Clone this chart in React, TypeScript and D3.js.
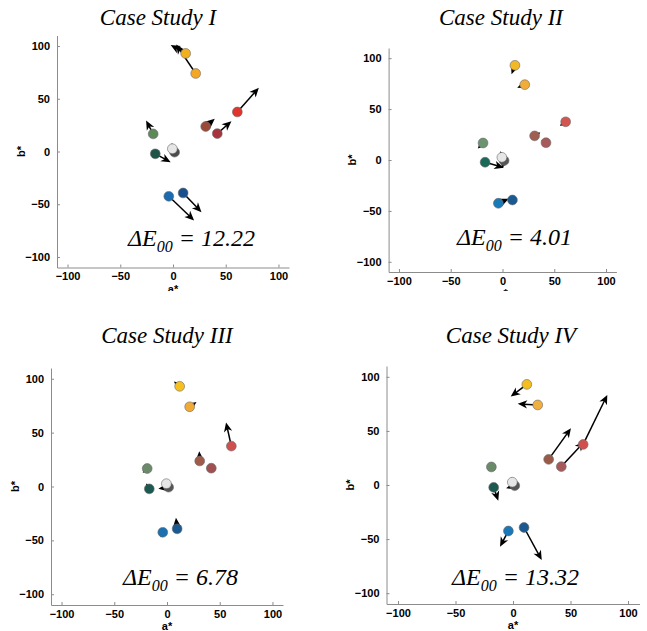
import React, { useEffect, useRef } from 'react';
import * as d3 from 'd3';

// patch order: yellow, orange, red, brown, maroon, green, teal, dark gray, white, blue, dark blue
const patchA = [12, 21.5, 61, 31, 42, -18.8, -16.8, 1.5, -0.6, -4, 9.6];
const patchB = [93, 74, 37.5, 23.7, 17, 16.7, -2.2, -0.6, 2.6, -42.5, -39.3];

const caseTitles = ['Case Study I', 'Case Study II', 'Case Study III', 'Case Study IV'];
const deltaE = ['12.22', '4.01', '6.78', '13.32'];

// arrow tips (a*, b*) per case
const caseIEndA = [-2.2, 3, 81.4, 39.6, 55.4, -25.5, -2.2, 3.5, -1, 20, 27];
const caseIEndB = [101, 101.5, 60.5, 31, 28.7, 29.4, -10.1, -2.5, 8, -65.4, -57.5];
const caseIIEndA = [8.7, 14.2, 55.4, 36.5, 37.5, -23.8, 1.3, -0.3, -2, 6, 12];
const caseIIEndB = [84.3, 70.9, 33.6, 27, 19.5, 11.4, -7.5, -8, 8.5, -38, -36];
const caseIIIEndA = [6.6, 28, 56, 30.6, 41, -23, -19.9, -8.2, -1, -6, 8.5];
const caseIIIEndB = [97.5, 78.4, 59.5, 32.7, 13, 12.7, 2.8, -2.1, 6, -47, -29];
const caseIVEndA = [-2, 4.1, 82, 50.4, 62, -18.5, -12.8, -6, -1, -11.3, 25];
const caseIVEndB = [81.8, 75, 83.3, 52.5, 40, 12.5, -14.5, -3, 7.5, -57, -69.4];

const caseIColors = ['#f2b01e', '#f5a623', '#e0342c', '#9c4a38', '#a8343e', '#5e8a5a', '#1e5448', '#4a4a4a', '#e6e6e6', '#1a6bb0', '#1a4f90'];
const caseIIColors = ['#f2b825', '#f0ad3a', '#d45550', '#a06050', '#a85a5a', '#6a9570', '#1a6a5a', '#555555', '#e6e6e6', '#1a7ab8', '#1a5a90'];
const caseIIIColors = ['#f5c020', '#f0aa35', '#d05050', '#a05a4a', '#a05050', '#6a8a6a', '#1a5a50', '#555555', '#e6e6e6', '#1a70b0', '#1a5a90'];
const caseIVColors = ['#f5be20', '#f0b040', '#d05050', '#9a5a48', '#a85a5a', '#6a8a6a', '#1a5a50', '#555555', '#e6e6e6', '#1a78b8', '#1a5a90'];

const tickValues = [-100, -50, 0, 50, 100];

const cases = [
  { endA: caseIEndA, endB: caseIEndB, colors: caseIColors },
  { endA: caseIIEndA, endB: caseIIEndB, colors: caseIIColors },
  { endA: caseIIIEndA, endB: caseIIIEndB, colors: caseIIIColors },
  { endA: caseIVEndA, endB: caseIVEndB, colors: caseIVColors },
];

// layout of the four panels in pixels
const layout = [
  { xr: [57, 289], yr: [267.5, 35.5], title: [158, 25], de: [128, 246], clipA: true },
  { xr: [388.6, 616.4], yr: [272, 48], title: [501, 25], de: [457, 245], clipA: true },
  { xr: [51, 283], yr: [605, 368], title: [167, 343], de: [123, 585], clipA: false },
  { xr: [386.5, 639.5], yr: [604, 366], title: [511, 343], de: [452, 585], clipA: false },
];

const W = 647;
const H = 631;
const axisColor = '#8c8c8c';
const sansFont = '"Liberation Sans", Helvetica, Arial, sans-serif';
const serifFont = '"Liberation Serif", "Times New Roman", serif';

export default function App() {
  const svgRef = useRef<SVGSVGElement>(null);

  useEffect(() => {
    if (!svgRef.current) return;
    const svg = d3.select(svgRef.current);
    svg.selectAll('*').remove();

    svg.append('defs')
      .append('clipPath')
      .attr('id', 'topclip')
      .append('rect')
      .attr('x', 0).attr('y', 0).attr('width', W).attr('height', 291);

    cases.forEach((c, ci) => {
      const L = layout[ci];
      const x = d3.scaleLinear().domain([-110, 110]).range(L.xr);
      const y = d3.scaleLinear().domain([-110, 110]).range(L.yr);
      const g = svg.append('g');

      // axes (left + bottom only, inward ticks)
      const xAxis = g.append('g')
        .attr('transform', `translate(0,${L.yr[0]})`)
        .call(d3.axisBottom(x).tickValues(tickValues).tickSizeInner(-3).tickSizeOuter(0).tickPadding(5)
          .tickFormat(d => String(d).replace('-', '\u2212')));
      const yAxis = g.append('g')
        .attr('transform', `translate(${L.xr[0]},0)`)
        .call(d3.axisLeft(y).tickValues(tickValues).tickSizeInner(-3).tickSizeOuter(0).tickPadding(7)
          .tickFormat(d => String(d).replace('-', '\u2212')));
      [xAxis, yAxis].forEach(ax => {
        ax.attr('color', axisColor);
        ax.selectAll('text')
          .attr('fill', '#000')
          .style('font-family', sansFont)
          .style('font-weight', 'bold')
          .style('font-size', '11px');
      });

      // axis labels
      g.append('text')
        .attr('x', (L.xr[0] + L.xr[1]) / 2)
        .attr('y', L.yr[0] + 25)
        .attr('text-anchor', 'middle')
        .attr('clip-path', L.clipA ? 'url(#topclip)' : null)
        .style('font-family', sansFont)
        .style('font-weight', 'bold')
        .style('font-size', '11px')
        .text('a*');
      const bx = L.xr[0] - 36;
      const by = (L.yr[0] + L.yr[1]) / 2;
      g.append('text')
        .attr('transform', `translate(${bx},${by}) rotate(-90)`)
        .attr('text-anchor', 'middle')
        .attr('dy', '0.35em')
        .style('font-family', sansFont)
        .style('font-weight', 'bold')
        .style('font-size', '11px')
        .text('b*');

      // arrows
      const headLen = 9.5;
      const headHalf = 4.2;
      patchA.forEach((a0, i) => {
        const x0 = x(a0), y0 = y(patchB[i]);
        const x1 = x(c.endA[i]), y1 = y(c.endB[i]);
        const len = Math.hypot(x1 - x0, y1 - y0);
        if (len < 0.5) return;
        const ux = (x1 - x0) / len, uy = (y1 - y0) / len;
        const h = Math.min(headLen, len + 1);
        const bxp = x1 - ux * h, byp = y1 - uy * h;
        const nx = -uy, ny = ux;
        g.append('line')
          .attr('x1', x0).attr('y1', y0)
          .attr('x2', x1 - ux * h * 0.6).attr('y2', y1 - uy * h * 0.6)
          .attr('stroke', '#000')
          .attr('stroke-width', 1.5);
        const notchX = x1 - ux * h * 0.72, notchY = y1 - uy * h * 0.72;
        g.append('path')
          .attr('d', `M${x1},${y1}L${bxp + nx * headHalf},${byp + ny * headHalf}L${notchX},${notchY}L${bxp - nx * headHalf},${byp - ny * headHalf}Z`)
          .attr('fill', '#000');
      });

      // patches
      g.selectAll('circle.patch')
        .data(patchA)
        .enter()
        .append('circle')
        .attr('class', 'patch')
        .attr('cx', (d) => x(d))
        .attr('cy', (_, i) => y(patchB[i]))
        .attr('r', 4.9)
        .attr('fill', (_, i) => c.colors[i])
        .attr('stroke', '#6a6a6a')
        .attr('stroke-width', 0.6);

      // title
      g.append('text')
        .attr('x', L.title[0])
        .attr('y', L.title[1])
        .attr('text-anchor', 'middle')
        .style('font-family', serifFont)
        .style('font-style', 'italic')
        .style('font-size', '23px')
        .text(caseTitles[ci]);

      // delta E label
      const t = g.append('text')
        .attr('x', L.de[0])
        .attr('y', L.de[1])
        .style('font-family', serifFont)
        .style('font-style', 'italic')
        .style('font-size', '24px');
      t.append('tspan').text('\u0394E');
      t.append('tspan').attr('dy', 6).style('font-size', '16px').text('00');
      t.append('tspan').attr('dy', -6).text(` = ${deltaE[ci]}`);
    });
  }, []);

  return (
    <svg
      ref={svgRef}
      width={W}
      height={H}
      style={{ position: 'absolute', left: 0, top: 0, background: '#fff' }}
    />
  );
}
